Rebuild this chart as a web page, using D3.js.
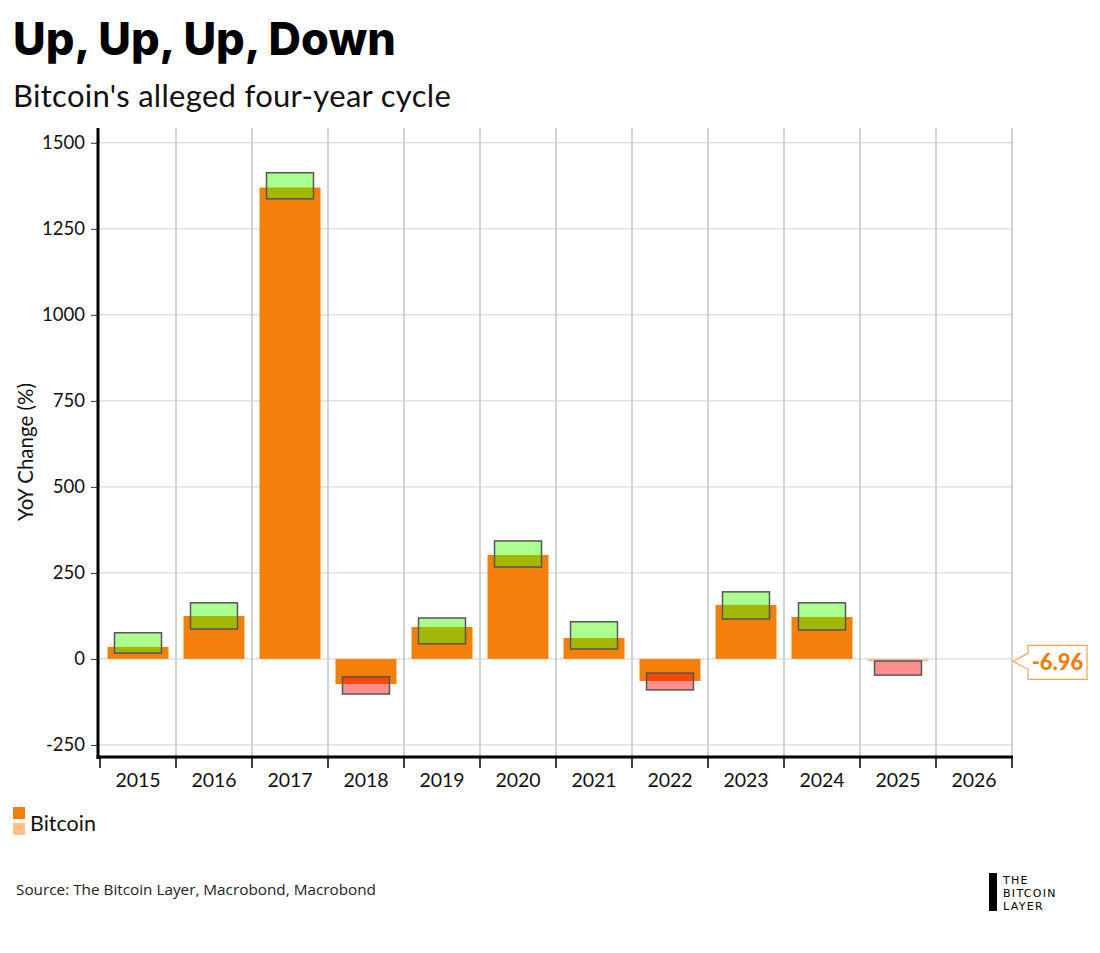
<!DOCTYPE html>
<html>
<head>
<meta charset="utf-8">
<script src="https://cdn.jsdelivr.net/npm/d3@7"></script>
<style>
  html, body { margin: 0; padding: 0; background: #fff; }
  svg { display: block; }
</style>
</head>
<body>
<svg id="chart" width="1100" height="953"></svg>
<script>
// ---- Data ----
const years = ["2015","2016","2017","2018","2019","2020","2021","2022","2023","2024","2025","2026"];
const bitcoinYoY = [35, 125, 1370, -73, 93, 302, 61, -64, 157, 122, -6.96, null];
const projected = [false, false, false, false, false, false, false, false, false, false, true, false];
const rangeHigh = [76, 163, 1413, -52, 119, 343, 108, -41, 195, 163, -6, null];
const rangeLow  = [17, 87, 1337, -102, 44, 267, 29, -90, 116, 84, -47, null];
const yTicks = [-250, 0, 250, 500, 750, 1000, 1250, 1500];
const lastLabel = "-6.96";

// ---- Layout ----
const svg = d3.select("#chart");
const pL = 99, pR = 1012, pT = 128, pB = 757;
const orange = "#f2800b", lightOrange = "#fcc088";

const x = d3.scaleBand().domain(years).range([pL + 1, pR]).paddingInner(0).paddingOuter(0);
const y = d3.scaleLinear().domain([-285, 1543]).range([pB, pT]);

// Titles
svg.append("text").attr("x", 13).attr("y", 55)
  .style("font-family", "Inter, Lato, sans-serif").style("font-weight", 800).style("font-size", "45px")
  .style("fill", "#000").text("Up, Up, Up, Down");
svg.append("text").attr("x", 13).attr("y", 107)
  .style("font-family", "Lato, sans-serif").style("font-size", "31px").style("letter-spacing", "0.3px")
  .style("fill", "#111").text("Bitcoin's alleged four-year cycle");

// Horizontal grid
svg.append("g").selectAll("line").data(yTicks).join("line")
  .attr("x1", pL).attr("x2", pR + 1)
  .attr("y1", d => y(d)).attr("y2", d => y(d))
  .attr("stroke", "#d0d0d0").attr("stroke-width", 1);

// Vertical grid at band boundaries
const bounds = years.map(d => x(d)).concat([x(years[years.length-1]) + x.bandwidth()]);
svg.append("g").selectAll("line").data(bounds.slice(1)).join("line")
  .attr("x1", d => d).attr("x2", d => d)
  .attr("y1", pT).attr("y2", pB)
  .attr("stroke", "#c4c4c4").attr("stroke-width", 1.5);

// Bars
const barPad = 7.5;
const data = years.map((yr, i) => ({yr, v: bitcoinYoY[i], p: projected[i], hi: rangeHigh[i], lo: rangeLow[i]}));
svg.append("g").selectAll("rect").data(data.filter(d => d.v !== null)).join("rect")
  .attr("x", d => x(d.yr) + barPad)
  .attr("width", x.bandwidth() - 2 * barPad)
  .attr("y", d => y(Math.max(0, d.v)))
  .attr("height", d => Math.abs(y(d.v) - y(0)))
  .attr("fill", d => d.p ? lightOrange : orange);

// Range boxes
const boxPad = 14.5;
svg.append("g").selectAll("rect").data(data.filter(d => d.hi !== null)).join("rect")
  .attr("x", d => x(d.yr) + boxPad)
  .attr("width", x.bandwidth() - 2 * boxPad)
  .attr("y", d => y(d.hi))
  .attr("height", d => y(d.lo) - y(d.hi))
  .attr("fill", d => d.v >= 0 ? "rgba(62,255,0,0.44)" : "rgba(255,0,0,0.44)")
  .attr("stroke", "#555").attr("stroke-width", 1.5);

// Y axis
const yAxis = d3.axisLeft(y).tickValues(yTicks).tickSize(8).tickPadding(6).tickFormat(d => String(d));
const gy = svg.append("g").attr("transform", `translate(${pL},0)`).call(yAxis);
gy.select(".domain").remove();
gy.selectAll(".tick line").attr("stroke", "#333");
gy.selectAll(".tick text").style("font-family", "Lato, sans-serif").style("font-size", "18.5px").style("fill", "#111");
svg.append("line").attr("x1", pL - 1).attr("x2", pL - 1).attr("y1", pT).attr("y2", pB + 2)
  .attr("stroke", "#000").attr("stroke-width", 3);

// X axis
const gx = svg.append("g").attr("transform", `translate(0,${pB})`)
  .call(d3.axisBottom(x).tickSize(0).tickPadding(16));
gx.select(".domain").remove();
gx.selectAll(".tick text").style("font-family", "Lato, sans-serif").style("font-size", "19.5px").style("fill", "#111");
svg.append("g").selectAll("line").data(bounds).join("line")
  .attr("x1", d => d).attr("x2", d => d).attr("y1", pB).attr("y2", pB + 11)
  .attr("stroke", "#000").attr("stroke-width", 1.5);
svg.append("line").attr("x1", pL - 2.5).attr("x2", pR + 1).attr("y1", pB).attr("y2", pB)
  .attr("stroke", "#000").attr("stroke-width", 3);

// Y axis title
svg.append("text").attr("transform", `translate(33,${452}) rotate(-90)`)
  .attr("text-anchor", "middle")
  .style("font-family", "Lato, sans-serif").style("font-size", "20.5px").style("fill", "#111")
  .text("YoY Change (%)");

// Last value label
const ly = y(bitcoinYoY[10]);
const bx = 1028, bw = 59;
svg.append("path")
  .attr("d", `M${pR + 1},${ly} L${bx},${ly - 8} L${bx},${ly - 16} L${bx + bw},${ly - 16} L${bx + bw},${ly + 18} L${bx},${ly + 18} L${bx},${ly + 8} Z`)
  .attr("fill", "#fff").attr("stroke", "#f5a24e").attr("stroke-width", 1.2);
svg.append("text").attr("x", bx + bw / 2).attr("y", ly + 9).attr("text-anchor", "middle")
  .style("font-family", "Lato, sans-serif").style("font-weight", 900).style("font-size", "22px")
  .style("fill", "#f07f0c").text(lastLabel);

// Legend
svg.append("rect").attr("x", 13).attr("y", 807).attr("width", 12).attr("height", 12).attr("fill", orange);
svg.append("rect").attr("x", 13).attr("y", 823).attr("width", 12).attr("height", 12).attr("fill", lightOrange);
svg.append("text").attr("x", 30).attr("y", 831)
  .style("font-family", "Lato, sans-serif").style("font-size", "21.5px").style("fill", "#111").text("Bitcoin");

// Source
svg.append("text").attr("x", 16).attr("y", 895)
  .style("font-family", "'Open Sans', sans-serif").style("font-size", "15.3px").style("fill", "#222")
  .text("Source: The Bitcoin Layer, Macrobond, Macrobond");

// Logo
svg.append("rect").attr("x", 989).attr("y", 873).attr("width", 8).attr("height", 38).attr("fill", "#000");
const logoLines = ["THE", "BITCOIN", "LAYER"];
svg.append("g").selectAll("text").data(logoLines).join("text")
  .attr("x", 1003).attr("y", (d, i) => 884 + i * 13)
  .style("font-family", "'DejaVu Sans', sans-serif").style("font-size", "11px")
  .style("letter-spacing", "1.3px").style("fill", "#000").text(d => d);
</script>
</body>
</html>
